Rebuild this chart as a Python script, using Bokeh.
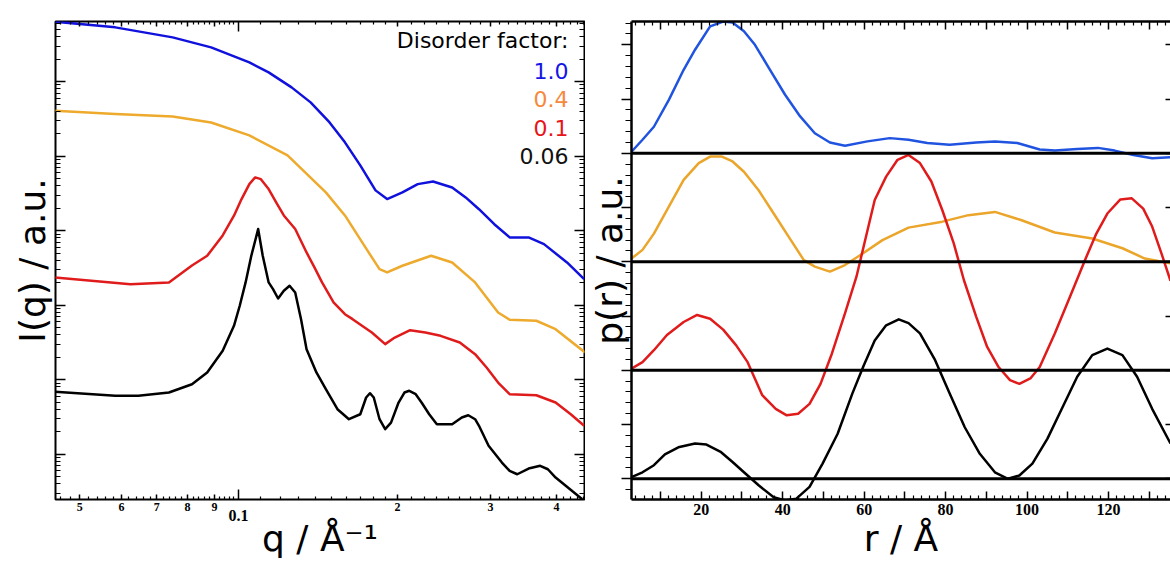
import numpy as np
from bokeh.plotting import figure
from bokeh.layouts import row
from bokeh.models import (LogAxis, LinearAxis, FixedTicker, Label, Span, Range1d,
                          CustomJSTickFormatter)
from bokeh.embed import file_html
from bokeh.resources import INLINE

# ---------------- left panel: I(q) ----------------
q_blue = [0.0449, 0.0584, 0.0750, 0.0887, 0.1048, 0.1140, 0.1260, 0.1369, 0.1487, 0.1590,
          0.1700, 0.1817, 0.1911, 0.2043, 0.2184, 0.2335, 0.2538, 0.2692, 0.2853, 0.3050,
          0.3261, 0.3542, 0.3788, 0.4188, 0.4513]
I_blue = [6.37e5, 5.34e5, 3.92e5, 2.88e5, 1.81e5, 1.33e5, 8.36e4, 5.26e4, 2.83e4, 1.53e4,
          7.50e3, 3.47e3, 2.65e3, 3.26e3, 4.21e3, 4.57e3, 3.80e3, 2.79e3, 1.94e3, 1.22e3,
          811, 811, 659, 374, 223]

q_orange = [0.0449, 0.0584, 0.0750, 0.0887, 0.1048, 0.1238, 0.1463, 0.1590, 0.1729, 0.1849,
            0.1911, 0.2043, 0.2315, 0.2538, 0.2805, 0.3101, 0.3261, 0.3664, 0.3985, 0.4530]
I_orange = [4.07e4, 3.66e4, 3.41e4, 2.83e4, 1.90e4, 1.02e4, 3.26e3, 1.60e3, 633, 304,
            275, 338, 460, 374, 202, 79.8, 63.7, 61.8, 47.6, 23.2]

q_red = [0.0449, 0.0624, 0.0738, 0.0816, 0.0872, 0.0933, 0.0980, 0.1013, 0.1048, 0.1075,
         0.1102, 0.1140, 0.1178, 0.1218, 0.1280, 0.1345, 0.1392, 0.1439, 0.1513, 0.1590,
         0.1644, 0.1788, 0.1895, 0.1976, 0.2113, 0.2258, 0.2413, 0.2624, 0.2805, 0.2949,
         0.3101, 0.3261, 0.3664, 0.3985, 0.4257, 0.4513]
I_red = [235, 191, 202, 341, 460, 862, 1585, 2650, 4207, 5180,
         4909, 3610, 2391, 1600, 1050, 510, 321, 202, 109, 75.7,
         64.9, 43.0, 30.0, 36.8, 46.2, 43.0, 38.8, 31.6, 22.0, 14.6,
         9.17, 6.39, 6.19, 4.94, 3.44, 2.41]

q_black = [0.0449, 0.0584, 0.0646, 0.0738, 0.0816, 0.0872, 0.0933, 0.0980, 0.1005, 0.1031,
           0.1057, 0.1089, 0.1111, 0.1140, 0.1162, 0.1188, 0.1218, 0.1249, 0.1280, 0.1313,
           0.1345, 0.1404, 0.1463, 0.1539, 0.1618, 0.1700, 0.1744, 0.1773, 0.1803, 0.1849,
           0.1895, 0.1944, 0.2009, 0.2061, 0.2105, 0.2165, 0.2221, 0.2296, 0.2374, 0.2538,
           0.2647, 0.2723, 0.2805, 0.2853, 0.2975, 0.3153, 0.3261, 0.3371, 0.3542, 0.3726,
           0.3853, 0.3985, 0.4476]
I_black = [6.88, 6.08, 6.08, 6.73, 8.70, 12.5, 24.4, 52.9, 98.2, 202,
           460, 1050, 460, 202, 164, 123, 156, 182, 148, 64.9,
           25.7, 12.5, 7.45, 4.02, 2.95, 3.44, 5.77, 6.59, 5.77, 2.95,
           2.17, 2.66, 4.94, 6.73, 7.10, 6.39, 4.94, 3.44, 2.53, 2.53,
           3.11, 3.34, 2.95, 2.41, 1.30, 0.774, 0.598, 0.539, 0.643, 0.699,
           0.629, 0.487, 0.249]

legend_title = "Disorder factor:"
legend_labels = ["1.0", "0.4", "0.1", "0.06"]

q_label_ticks = [0.05, 0.06, 0.07, 0.08, 0.09, 0.2, 0.3, 0.4]
q_label_texts = ["5", "6", "7", "8", "9", "2", "3", "4"]
q_decade_tick = 0.1
q_decade_text = "0.1"

# ---------------- right panel: p(r) ----------------
r_blue = [2.9, 5.6, 8.4, 12.1, 15.7, 18.5, 22.2, 25.4, 27.7, 30.5, 33.2, 36.9, 40.6, 44.3,
          47.9, 51.6, 55.3, 60.8, 66.3, 70.9, 75.5, 81.0, 87.5, 92.1, 97.6, 103.1, 106.8,
          112.3, 117.4, 121.5, 126.1, 130.7, 135.2]
p_blue = [0.03, 0.25, 0.49, 0.99, 1.54, 1.91, 2.34, 2.43, 2.41, 2.25, 2.00, 1.54, 1.08, 0.68,
          0.37, 0.20, 0.14, 0.22, 0.28, 0.25, 0.19, 0.16, 0.20, 0.22, 0.19, 0.07, 0.05,
          0.08, 0.10, 0.05, -0.03, -0.09, -0.07]

r_orange = [2.9, 5.6, 8.4, 12.1, 15.7, 19.4, 22.2, 25.1, 27.7, 30.5, 34.1, 37.8, 41.5, 45.2,
            47.9, 51.6, 55.3, 59.0, 64.5, 70.9, 79.2, 85.6, 92.1, 98.5, 106.8, 116.0, 123.4,
            128.9, 135.2]
p_orange = [0.06, 0.22, 0.52, 1.02, 1.51, 1.82, 1.94, 1.94, 1.85, 1.66, 1.32, 0.89, 0.46, 0.03,
            -0.09, -0.18, -0.06, 0.12, 0.40, 0.63, 0.74, 0.86, 0.92, 0.77, 0.54, 0.43, 0.25,
            0.06, -0.03]

r_red = [2.9, 5.6, 8.4, 11.6, 15.7, 19.0, 22.2, 25.4, 28.6, 31.4, 35.0, 38.3, 41.0, 43.8,
         46.6, 49.3, 52.1, 55.3, 58.1, 62.6, 65.4, 68.2, 70.9, 73.7, 76.5, 79.2, 82.0, 84.5,
         87.5, 90.2, 93.0, 95.8, 98.1, 100.8, 103.1, 106.8, 110.5, 114.2, 117.0, 119.7,
         122.9, 125.7, 128.5, 130.7, 133.0, 135.2]
p_red = [0.03, 0.15, 0.37, 0.65, 0.89, 1.02, 0.95, 0.75, 0.46, 0.15, -0.46, -0.71, -0.83, -0.80,
         -0.62, -0.25, 0.31, 1.05, 1.72, 3.14, 3.57, 3.88, 3.97, 3.82, 3.48, 2.95, 2.34, 1.66,
         0.99, 0.43, 0.06, -0.18, -0.25, -0.15, 0.06, 0.68, 1.35, 2.03, 2.52, 2.89,
         3.15, 3.17, 2.98, 2.65, 2.15, 1.65]

r_black = [2.9, 5.6, 8.4, 11.1, 14.4, 18.5, 21.3, 24.9, 27.7, 30.5, 34.1, 37.8, 40.6, 43.3,
           46.6, 49.8, 53.5, 57.1, 59.9, 62.6, 65.4, 68.5, 70.9, 73.7, 77.4, 81.0, 84.7, 88.4,
           92.1, 95.3, 98.1, 101.3, 105.0, 108.7, 112.3, 116.0, 119.7, 123.4, 127.0, 130.7,
           135.2]
p_black = [0.03, 0.12, 0.25, 0.45, 0.58, 0.65, 0.63, 0.49, 0.31, 0.12, -0.12, -0.34, -0.40, -0.37,
           -0.15, 0.28, 0.83, 1.57, 2.09, 2.55, 2.83, 2.94, 2.87, 2.68, 2.19, 1.57, 0.95, 0.46,
           0.12, 0.00, 0.06, 0.28, 0.74, 1.32, 1.88, 2.28, 2.40, 2.28, 1.88, 1.29,
           0.65]

# vertical offsets of the stacked p(r) curves (blue, orange, red, black)
p_offsets = [6, 4, 2, 0]

r_label_ticks = [10, 20, 30, 40, 50, 60, 70, 80, 90, 100, 110, 120, 130]
r_label_texts = ["", "20", "", "40", "", "60", "", "80", "", "100", "", "120", ""]

# ---------------- styles ----------------
LEFT_COLORS = ["#1111dd", "#eeaa2c", "#e01b1b", "#000000"]
RIGHT_COLORS = ["#2054e0", "#eba52a", "#e01b1b", "#000000"]
LEGEND_COLORS = ["#1515e6", "#f58a3e", "#e8141a", "#111111"]
TITLE_FONT = "DejaVu Sans"
TICK_FONT = "Liberation Serif"


def blank(ax):
    """tick-only axis: no visible tick labels and (almost) no extent"""
    ax.formatter = CustomJSTickFormatter(code="return ''")
    ax.major_label_text_font_size = "1px"
    ax.major_label_standoff = 0
    return ax


# ================= left figure =================
p1 = figure(frame_width=529, frame_height=478, min_border_left=55, min_border_right=1,
            min_border_top=19, min_border_bottom=66,
            x_axis_type="log", y_axis_type="log",
            x_axis_location=None, y_axis_location=None,
            x_range=Range1d(0.045, 0.452), y_range=Range1d(0.247, 6.4e5),
            toolbar_location=None, output_backend="svg")
p1.grid.visible = False
p1.outline_line_color = "black"
p1.outline_line_width = 2
p1.background_fill_color = "white"
p1.border_fill_color = "white"

q_minor = ([round(0.046 + 0.002 * i, 4) for i in range(27)] +
           [round(0.11 + 0.01 * i, 3) for i in range(9)] +
           [round(0.2 + 0.0125 * i, 4) for i in range(21)])
q_minor = [t for t in q_minor if t not in q_label_ticks and abs(t - 0.1) > 1e-9]


def q_axis(with_labels):
    ax = LogAxis(ticker=FixedTicker(ticks=q_label_ticks, minor_ticks=q_minor),
                 major_tick_in=5, major_tick_out=0, minor_tick_in=3, minor_tick_out=0,
                 major_tick_line_width=1.5, minor_tick_line_width=1.2,
                 axis_line_color=None)
    if with_labels:
        ax.major_label_overrides = {t: s for t, s in zip(q_label_ticks, q_label_texts)}
        ax.major_label_text_font = TICK_FONT
        ax.major_label_text_font_style = "bold"
        ax.major_label_text_font_size = "12px"
        ax.major_label_text_color = "black"
        ax.major_label_standoff = 3
    else:
        blank(ax)
    return ax


def long_tick_axis():
    ax = LogAxis(ticker=FixedTicker(ticks=[q_decade_tick], minor_ticks=[]),
                 major_tick_in=10, major_tick_out=0, major_tick_line_width=1.5,
                 minor_tick_line_color=None, axis_line_color=None)
    return blank(ax)


# below: long tick, regular labelled ticks, "0.1" label + axis title
p1.add_layout(long_tick_axis(), "below")
p1.add_layout(q_axis(True), "below")
axC = LogAxis(ticker=FixedTicker(ticks=[q_decade_tick], minor_ticks=[]),
              major_tick_in=0, major_tick_out=0, axis_line_color=None,
              minor_tick_line_color=None,
              major_label_text_font=TICK_FONT, major_label_text_font_style="bold",
              major_label_text_font_size="16px", major_label_text_color="black",
              major_label_standoff=-4,
              axis_label="q / Å⁻¹", axis_label_text_font=TITLE_FONT,
              axis_label_text_font_size="36px", axis_label_text_font_style="normal",
              axis_label_standoff=-6, axis_label_text_color="black")
axC.major_label_overrides = {q_decade_tick: q_decade_text}
p1.add_layout(axC, "below")
# above
p1.add_layout(long_tick_axis(), "above")
p1.add_layout(q_axis(False), "above")

I_decades = [1e0, 1e1, 1e2, 1e3, 1e4, 1e5]
I_minor = [k * 10.0 ** n for n in range(-1, 6) for k in range(2, 10)]


def I_axis(label):
    ax = LogAxis(ticker=FixedTicker(ticks=I_decades, minor_ticks=I_minor),
                 major_tick_in=10, major_tick_out=0, minor_tick_in=5, minor_tick_out=0,
                 major_tick_line_width=1.5, minor_tick_line_width=1.2,
                 axis_line_color=None)
    blank(ax)
    if label:
        ax.axis_label = label
        ax.axis_label_text_font = TITLE_FONT
        ax.axis_label_text_font_size = "36px"
        ax.axis_label_text_font_style = "normal"
        ax.axis_label_text_color = "black"
        ax.axis_label_standoff = 3
    return ax


p1.add_layout(I_axis("I(q) / a.u."), "left")
p1.add_layout(I_axis(None), "right")

for qs, Is, c in zip([q_blue, q_orange, q_red, q_black],
                     [I_blue, I_orange, I_red, I_black], LEFT_COLORS):
    p1.line(qs, Is, line_color=c, line_width=2.5, line_join="round")

legend_y = [459, 429, 400.5, 372, 344]
p1.add_layout(Label(x=513, y=legend_y[0], x_units="screen", y_units="screen",
                    text=legend_title, text_align="right", text_baseline="middle",
                    text_font=TITLE_FONT, text_font_size="22px", text_color="black"))
for lab, c, yy in zip(legend_labels, LEGEND_COLORS, legend_y[1:]):
    p1.add_layout(Label(x=513, y=yy, x_units="screen", y_units="screen",
                        text=lab, text_align="right", text_baseline="middle",
                        text_font=TITLE_FONT, text_font_size="22px", text_color=c))

# ================= right figure =================
p2 = figure(frame_width=539, frame_height=478, min_border_left=46, min_border_right=0,
            min_border_top=21, min_border_bottom=64,
            x_axis_location=None, y_axis_location=None,
            x_range=Range1d(2.9, 135.2), y_range=Range1d(-0.382, 8.43),
            toolbar_location=None, output_backend="svg")
p2.grid.visible = False
p2.outline_line_color = None
p2.background_fill_color = "white"
p2.border_fill_color = "white"

r_minor = [t for t in range(4, 136, 2) if t % 10 != 0]


def r_axis(with_labels):
    ax = LinearAxis(ticker=FixedTicker(ticks=r_label_ticks, minor_ticks=r_minor),
                    major_tick_in=8, major_tick_out=0, minor_tick_in=4, minor_tick_out=0,
                    major_tick_line_width=1.5, minor_tick_line_width=1.2,
                    axis_line_color="black", axis_line_width=2.5)
    if with_labels:
        ax.major_label_overrides = {t: s for t, s in zip(r_label_ticks, r_label_texts)}
        ax.major_label_text_font = TICK_FONT
        ax.major_label_text_font_style = "bold"
        ax.major_label_text_font_size = "16px"
        ax.major_label_text_color = "black"
        ax.major_label_standoff = 4
        ax.axis_label = "r / Å"
        ax.axis_label_text_font = TITLE_FONT
        ax.axis_label_text_font_size = "36px"
        ax.axis_label_text_font_style = "normal"
        ax.axis_label_text_color = "black"
        ax.axis_label_standoff = 0
    else:
        blank(ax)
    return ax


p2.add_layout(r_axis(True), "below")
p2.add_layout(r_axis(False), "above")

p_major = [0, 1, 2, 3, 4, 5, 6, 7, 8]
p_minor = [round(k * 0.2, 2) for k in range(-1, 43) if k % 5 != 0]
axL = LinearAxis(ticker=FixedTicker(ticks=p_major, minor_ticks=p_minor),
                 major_tick_in=0, major_tick_out=10, minor_tick_in=0, minor_tick_out=6,
                 major_tick_line_width=1.5, minor_tick_line_width=1.2,
                 axis_line_color="black", axis_line_width=2.5,
                 axis_label="p(r) / a.u.", axis_label_text_font=TITLE_FONT,
                 axis_label_text_font_size="36px", axis_label_text_font_style="normal",
                 axis_label_text_color="black", axis_label_standoff=-8)
blank(axL)
p2.add_layout(axL, "left")
axR = LinearAxis(ticker=FixedTicker(ticks=p_major, minor_ticks=[]),
                 major_tick_in=5, major_tick_out=0, major_tick_line_width=1.5,
                 minor_tick_line_color=None, axis_line_color=None)
blank(axR)
p2.add_layout(axR, "right")

for off in p_offsets:
    p2.add_layout(Span(location=off, dimension="width", line_color="black", line_width=3))

for rs, ps, off, c in zip([r_blue, r_orange, r_red, r_black],
                          [p_blue, p_orange, p_red, p_black], p_offsets, RIGHT_COLORS):
    p2.line(rs, [v + off for v in ps], line_color=c, line_width=2.5, line_join="round")

layout = row(p1, p2)
open("out.html", "w").write(file_html(layout, INLINE))
